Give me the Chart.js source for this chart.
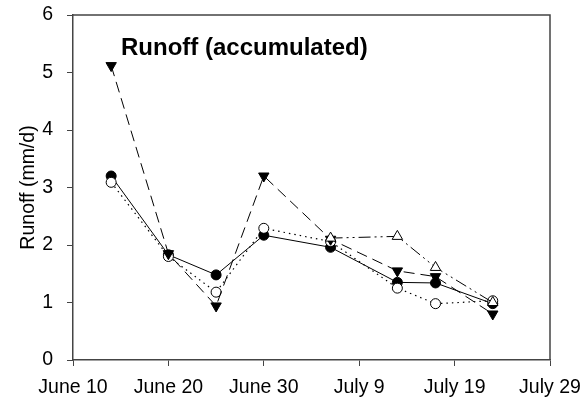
<!DOCTYPE html>
<html>
<head>
<meta charset="utf-8">
<script src="https://cdn.jsdelivr.net/npm/chart.js@4/dist/chart.umd.min.js"></script>
<style>
  html, body { margin: 0; padding: 0; background: #fff; }
</style>
</head>
<body>
<canvas id="runoffChart" width="585" height="399"></canvas>
<script>
// days after June 10
const days = [4, 10, 15, 20, 27, 34, 38, 44];
const tickLabels = ['June 10', 'June 20', 'June 30', 'July 9', 'July 19', 'July 29'];

const filledCircle = [3.20, 1.83, 1.48, 2.17, 1.96, 1.35, 1.34, 0.98];
const openCircle = [3.09, 1.80, 1.18, 2.29, 2.06, 1.25, 0.98, 1.03];
const filledTriDown = [5.12, 1.85, 0.94, 3.20, 2.10, 1.55, 1.45, 0.80];
const openTriUp = [null, null, null, null, 2.12, 2.15, 1.61, 1.00];

const toPoints = (vals) => days.map((d, i) => ({ x: d, y: vals[i] }));

const axisColor = '#444';
const tickFont = { family: 'Liberation Sans', size: 19.5 };

// frame on top and right + inner title
const framePlugin = {
	id: 'frame',
	afterDraw(chart) {
		const { ctx, chartArea } = chart;
		ctx.save();
		ctx.strokeStyle = axisColor;
		ctx.lineWidth = 1.5;
		ctx.beginPath();
		ctx.moveTo(chartArea.left, chartArea.top);
		ctx.lineTo(chartArea.right, chartArea.top);
		ctx.lineTo(chartArea.right, chartArea.bottom);
		ctx.stroke();
		ctx.fillStyle = '#000';
		ctx.font = 'bold 24px Liberation Sans';
		ctx.textBaseline = 'alphabetic';
		ctx.fillText('Runoff (accumulated)', chartArea.left + 48, chartArea.top + 40);
		ctx.restore();
	}
};

const ctx = document.getElementById('runoffChart');

new Chart(ctx, {
	type: 'line',
	data: {
		datasets: [
			{
				label: 'open triangle',
				data: toPoints(openTriUp),
				borderColor: '#000',
				borderWidth: 1,
				borderDash: [12, 4, 2, 4, 2, 4],
				pointStyle: 'triangle',
				pointRadius: 6,
				pointBackgroundColor: '#fff',
				pointBorderColor: '#000',
				pointBorderWidth: 1,
				spanGaps: false
			},
			{
				label: 'filled triangle',
				data: toPoints(filledTriDown),
				borderColor: '#000',
				borderWidth: 1,
				borderDash: [11, 6],
				pointStyle: 'triangle',
				rotation: 180,
				pointRadius: 6,
				pointBackgroundColor: '#000',
				pointBorderColor: '#000',
				pointBorderWidth: 1
			},
			{
				label: 'open circle',
				data: toPoints(openCircle),
				borderColor: '#000',
				borderWidth: 1.2,
				borderDash: [1.5, 4],
				pointStyle: 'circle',
				pointRadius: 5,
				pointBackgroundColor: '#fff',
				pointBorderColor: '#000',
				pointBorderWidth: 1
			},
			{
				label: 'filled circle',
				data: toPoints(filledCircle),
				borderColor: '#000',
				borderWidth: 1,
				pointStyle: 'circle',
				pointRadius: 5,
				pointBackgroundColor: '#000',
				pointBorderColor: '#000',
				pointBorderWidth: 1
			}
		]
	},
	options: {
		responsive: false,
		animation: false,
		layout: {
			padding: { left: 0, top: 15, right: 35, bottom: 0 }
		},
		scales: {
			x: {
				type: 'linear',
				min: 0,
				max: 50,
				afterFit: (scale) => {
					scale.height = 39;
					scale.paddingLeft = 0;
					scale.paddingRight = 0;
				},
				afterBuildTicks: (scale) => {
					scale.ticks = tickLabels.map((t, i) => ({ value: i * 10 }));
				},
				ticks: {
					color: '#000',
					font: tickFont,
					padding: 10,
					maxRotation: 0,
					autoSkip: false,
					callback: (value) => tickLabels[Math.round(value / 10)]
				},
				grid: {
					drawOnChartArea: false,
					drawTicks: true,
					tickLength: 6,
					tickColor: axisColor
				},
				border: { color: axisColor, width: 1.5 }
			},
			y: {
				min: 0,
				max: 6,
				afterFit: (scale) => {
					scale.width = 73;
					scale.paddingTop = 0;
					scale.paddingBottom = 0;
				},
				ticks: {
					stepSize: 1,
					color: '#000',
					font: tickFont,
					padding: 14
				},
				grid: {
					drawOnChartArea: false,
					drawTicks: true,
					tickLength: 6,
					tickColor: axisColor
				},
				border: { color: axisColor, width: 1.5 },
				title: {
					display: true,
					text: 'Runoff (mm/d)',
					color: '#000',
					font: { family: 'Liberation Sans', size: 19.5 },
					padding: { top: 17, bottom: 0 }
				}
			}
		},
		plugins: {
			legend: { display: false },
			tooltip: { enabled: false }
		}
	},
	plugins: [framePlugin]
});
</script>
</body>
</html>
